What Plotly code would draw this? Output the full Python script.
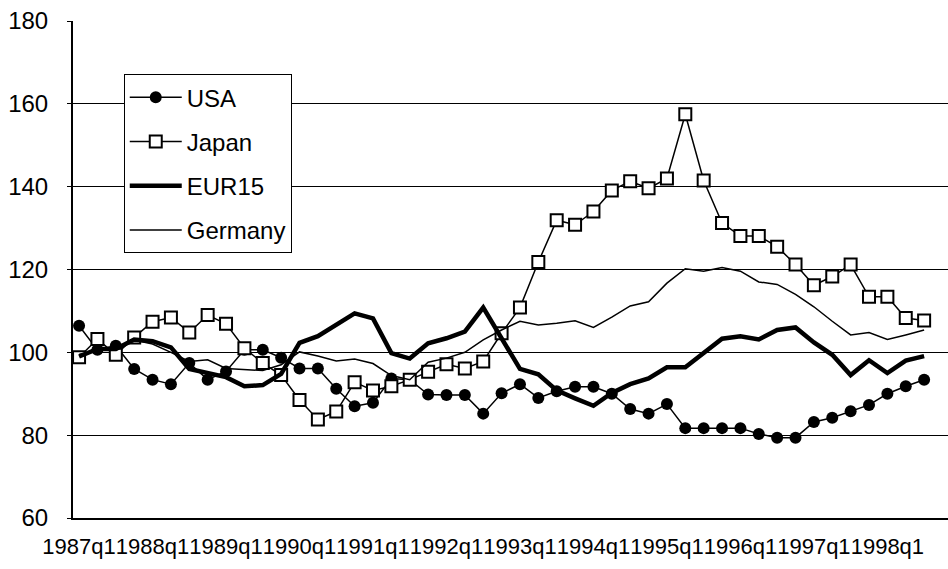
import plotly.graph_objects as go

quarters = [
    "1987q1", "1987q2", "1987q3", "1987q4",
    "1988q1", "1988q2", "1988q3", "1988q4",
    "1989q1", "1989q2", "1989q3", "1989q4",
    "1990q1", "1990q2", "1990q3", "1990q4",
    "1991q1", "1991q2", "1991q3", "1991q4",
    "1992q1", "1992q2", "1992q3", "1992q4",
    "1993q1", "1993q2", "1993q3", "1993q4",
    "1994q1", "1994q2", "1994q3", "1994q4",
    "1995q1", "1995q2", "1995q3", "1995q4",
    "1996q1", "1996q2", "1996q3", "1996q4",
    "1997q1", "1997q2", "1997q3", "1997q4",
    "1998q1", "1998q2", "1998q3",
]

usa = [106.4, 100.6, 101.6, 96.0, 93.4, 92.3, 97.4, 93.4, 95.4, 100.6,
       100.6, 98.7, 96.1, 96.1, 91.2, 87.0, 87.8, 93.7, 93.4, 89.8,
       89.7, 89.7, 85.2, 90.1, 92.3, 89.0, 90.6, 91.7, 91.7, 90.0,
       86.3, 85.2, 87.5, 81.7, 81.7, 81.7, 81.7, 80.3, 79.4, 79.4,
       83.2, 84.2, 85.8, 87.3, 90.0, 91.8, 93.4]

japan = [98.8, 103.2, 99.4, 103.6, 107.4, 108.4, 104.8, 109.0, 106.9, 101.0,
         97.4, 94.5, 88.5, 83.8, 85.7, 92.8, 90.8, 91.8, 93.4, 95.3,
         97.1, 96.1, 97.8, 104.6, 110.8, 121.8, 131.9, 130.8, 134.0, 139.1,
         141.3, 139.6, 142.0, 157.5, 141.5, 131.2, 128.1, 128.1, 125.5, 121.2,
         116.2, 118.3, 121.2, 113.4, 113.4, 108.3, 107.7]

eur15 = [99.0, 100.8, 100.8, 103.1, 102.7, 101.2, 96.0, 95.0, 94.0, 91.8,
         92.1, 94.8, 102.3, 103.9, 106.8, 109.4, 108.2, 99.8, 98.5, 102.2,
         103.4, 105.0, 110.8, 103.2, 96.0, 94.7, 90.8, 88.9, 87.1, 90.2,
         92.3, 93.7, 96.4, 96.4, 99.8, 103.3, 103.9, 103.1, 105.4, 106.0,
         102.4, 99.4, 94.5, 98.1, 95.0, 98.0, 99.1]

germany = [99.5, 100.5, 100.5, 103.0, 102.0, 100.0, 97.8, 98.2, 96.1, 95.9,
           95.6, 97.0, 100.1, 99.1, 97.9, 98.4, 97.3, 94.4, 93.4, 97.6,
           98.6, 100.0, 103.0, 105.4, 107.5, 106.6, 107.0, 107.6, 106.0, 108.5,
           111.2, 112.2, 116.7, 120.2, 119.6, 120.5, 119.6, 117.0, 116.4, 114.0,
           111.0, 107.5, 104.2, 104.8, 103.1, 104.2, 105.4]

tick_labels = ["1987q1", "1988q1", "1989q1", "1990q1", "1991q1", "1992q1",
               "1993q1", "1994q1", "1995q1", "1996q1", "1997q1", "1998q1"]
y_ticks = [60, 80, 100, 120, 140, 160, 180]

FONT = "Liberation Sans, Arial, sans-serif"

fig = go.Figure()
fig.add_trace(go.Scatter(
    x=quarters, y=usa, name="USA", mode="lines+markers", legendgroup="a",
    line=dict(color="black", width=1.5),
    marker=dict(symbol="circle", size=12, color="black"),
))
fig.add_trace(go.Scatter(
    x=quarters, y=japan, name="Japan", mode="lines+markers", legendgroup="b",
    line=dict(color="black", width=1.5),
    marker=dict(symbol="square", size=12, color="white",
                line=dict(color="black", width=2)),
))
fig.add_trace(go.Scatter(
    x=quarters, y=eur15, name="EUR15", mode="lines", legendgroup="c",
    line=dict(color="black", width=4.5),
))
fig.add_trace(go.Scatter(
    x=quarters, y=germany, name="Germany", mode="lines", legendgroup="d",
    line=dict(color="black", width=1.5),
))

fig.update_layout(
    width=948, height=569,
    margin=dict(l=73, r=0, t=21, b=51),
    paper_bgcolor="white", plot_bgcolor="white",
    font=dict(family=FONT, size=22, color="black"),
    showlegend=True,
    legend=dict(
        x=0.058, y=0.893, xanchor="left", yanchor="top",
        bgcolor="white", bordercolor="black", borderwidth=1,
        font=dict(family=FONT, size=24, color="black"),
        itemwidth=52, tracegroupgap=10, traceorder="grouped",
    ),
    xaxis=dict(
        type="category", categoryorder="array", categoryarray=quarters,
        range=[-0.33, 47.3],
        tickmode="array", tickvals=tick_labels, ticktext=tick_labels,
        tickangle=0, ticks="", showgrid=False,
        showline=True, linecolor="black", linewidth=2,
        tickfont=dict(family=FONT, size=22, color="black"),
        ticklabelstandoff=8, zeroline=False,
    ),
    yaxis=dict(
        range=[60, 180], tickmode="array", tickvals=y_ticks,
        showgrid=True, gridcolor="black", gridwidth=1,
        showline=True, linecolor="black", linewidth=2,
        ticks="outside", ticklen=4, tickcolor="black",
        tickfont=dict(family=FONT, size=24, color="black"),
        ticklabelstandoff=14, zeroline=False,
    ),
)

fig.write_html("out.html", config={"displayModeBar": False},
               post_script="document.body.style.margin='0';")
